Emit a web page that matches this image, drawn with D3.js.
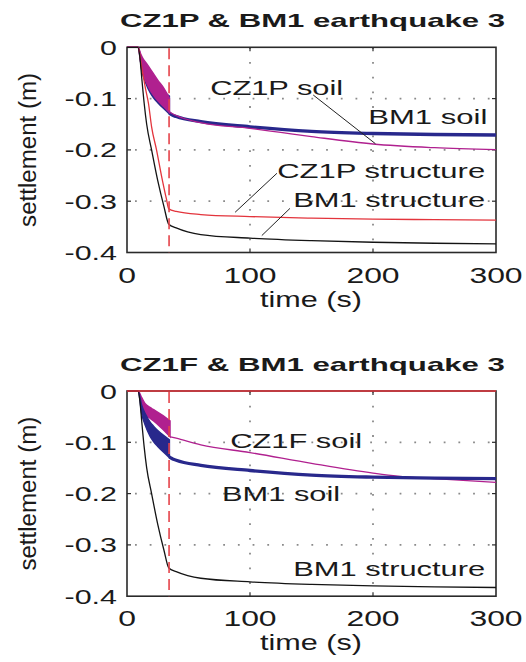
<!DOCTYPE html>
<html>
<head>
<meta charset="utf-8">
<script src="https://cdn.jsdelivr.net/npm/d3@7"></script>
<style>
  body { margin: 0; background: #fff; }
  text { font-family: "Liberation Sans", Arial, Helvetica, sans-serif; fill: #1a1a1a; }
</style>
</head>
<body>
<div id="chart"></div>
<script>
var width = 526;
var height = 662;

// axis ticks
var timeTicks = [0, 100, 200, 300];
var settleTicks = [0, -0.1, -0.2, -0.3, -0.4];
var settleTickLabels = ["0", "-0.1", "-0.2", "-0.3", "-0.4"];
var eventTime = 34.2; // end of shaking (dashed line)

// BM1 structure (same in both panels)
var bm1StructT = [0, 9, 10.5, 12, 14, 16, 20, 25, 30, 34, 40, 60, 100, 150, 200, 250, 300];
var bm1StructV = [0, 0, -0.02, -0.06, -0.11, -0.15, -0.2, -0.26, -0.31, -0.345, -0.352, -0.365, -0.372, -0.377, -0.380, -0.382, -0.383];

// BM1 soil (thick blue): band while shaking, then line
var bm1SoilBandT = [0, 9, 12, 15, 18.7, 21.4, 25, 30, 34.5];
var bm1SoilBandUp = [0, 0, -0.028, -0.045, -0.06, -0.068, -0.077, -0.087, -0.095];
var bm1SoilBandLo = [0, 0, -0.045, -0.068, -0.088, -0.098, -0.108, -0.12, -0.13];
var bm1SoilT = [34.5, 36, 40, 60, 100, 150, 200, 250, 300];
var bm1SoilV = [-0.128, -0.131, -0.135, -0.145, -0.155, -0.164, -0.168, -0.170, -0.171];

// CZ1P structure (red)
var cz1pStructT = [0, 9, 12, 15, 17.5, 20, 24, 28, 32, 34, 40, 60, 100, 150, 200, 250, 300];
var cz1pStructV = [0, 0, -0.04, -0.08, -0.11, -0.155, -0.2, -0.25, -0.295, -0.315, -0.32, -0.326, -0.330, -0.333, -0.335, -0.336, -0.337];

// CZ1P soil (magenta)
var cz1pSoilBandT = [0, 9, 11, 13, 16, 20, 25, 30, 34.5];
var cz1pSoilBandUp = [0, 0, -0.012, -0.022, -0.032, -0.046, -0.064, -0.08, -0.099];
var cz1pSoilBandLo = [0, 0, -0.028, -0.05, -0.07, -0.088, -0.104, -0.116, -0.127];
var cz1pSoilT = [34.5, 36, 40, 60, 100, 125, 150, 200, 250, 300];
var cz1pSoilV = [-0.126, -0.128, -0.133, -0.147, -0.158, -0.166, -0.174, -0.1885, -0.1957, -0.1996];

// CZ1F structure (red, no settlement)
var cz1fStructT = [0, 300];
var cz1fStructV = [0, 0];

// CZ1F soil (magenta)
var cz1fSoilBandT = [0, 9, 12, 14.6, 18.7, 21.4, 28, 35];
var cz1fSoilBandUp = [0, 0, -0.013, -0.024, -0.032, -0.036, -0.046, -0.058];
var cz1fSoilBandLo = [0, 0, -0.03, -0.045, -0.053, -0.058, -0.072, -0.089];
var cz1fSoilT = [35, 40, 60, 100, 150, 200, 220, 250, 300];
var cz1fSoilV = [-0.089, -0.092, -0.105, -0.120, -0.141, -0.160, -0.166, -0.171, -0.178];

var colors = {
  black: "#141414",
  red: "#e3343c",
  magenta: "#b0208f",
  blue: "#28288c",
  grid: "#8a8a8a",
  axis: "#2a2a2a"
};

var svg = d3.select("#chart")
  .append("svg")
  .attr("width", width)
  .attr("height", height);

function zipPts(ts, vs) {
  return ts.map(function(t, i) { return [t, vs[i]]; });
}
function zipBand(ts, up, lo) {
  return ts.map(function(t, i) { return [t, up[i], lo[i]]; });
}

var panels = [
  {
    title: "CZ1P & BM1 earthquake 3",
    top: 47.3, bottom: 252.5,
    soil: [
      { band: zipBand(bm1SoilBandT, bm1SoilBandUp, bm1SoilBandLo), line: zipPts(bm1SoilT, bm1SoilV), color: colors.blue, w: 3.3 },
      { band: zipBand(cz1pSoilBandT, cz1pSoilBandUp, cz1pSoilBandLo), line: zipPts(cz1pSoilT, cz1pSoilV), color: colors.magenta, w: 1.3 }
    ],
    lines: [
      { data: zipPts(cz1pStructT, cz1pStructV), color: colors.red, w: 1.3 },
      { data: zipPts(bm1StructT, bm1StructV), color: colors.black, w: 1.3 }
    ],
    labels: [
      { text: "CZ1P soil", t: 67.6, v: -0.093, len: 133 },
      { text: "BM1 soil", t: 196.2, v: -0.1495, len: 119 },
      { text: "CZ1P structure", t: 122.1, v: -0.2548, len: 208 },
      { text: "BM1 structure", t: 135.1, v: -0.3107, len: 192 }
    ],
    leaders: [
      [[151.4, -0.093], [202, -0.188]],
      [[121.9, -0.2456], [87.9, -0.3216]],
      [[132.5, -0.314], [109.6, -0.367]]
    ]
  },
  {
    title: "CZ1F & BM1 earthquake 3",
    top: 391, bottom: 596.2,
    soil: [
      { band: zipBand(cz1fSoilBandT, cz1fSoilBandUp, cz1fSoilBandLo), line: zipPts(cz1fSoilT, cz1fSoilV), color: colors.magenta, w: 1.3 },
      { band: zipBand(bm1SoilBandT, bm1SoilBandUp, bm1SoilBandLo), line: zipPts(bm1SoilT, bm1SoilV), color: colors.blue, w: 3.3 }
    ],
    lines: [
      { data: zipPts(bm1StructT, bm1StructV), color: colors.black, w: 1.3 },
      { data: zipPts(cz1fStructT, cz1fStructV), color: colors.red, w: 1.6 }
    ],
    labels: [
      { text: "CZ1F soil", t: 83.9, v: -0.1117, len: 132 },
      { text: "BM1 soil", t: 77.3, v: -0.2138, len: 118 },
      { text: "BM1 structure", t: 135.1, v: -0.36, len: 192 }
    ],
    leaders: []
  }
];

var left = 127, right = 496;
var stretch = 1.45;

panels.forEach(function(p) {
  var x = d3.scaleLinear().domain([0, 300]).range([left, right]);
  var y = d3.scaleLinear().domain([-0.4, 0]).range([p.bottom, p.top]);
  var g = svg.append("g");

  // dotted grid
  g.selectAll(".gx").data(timeTicks.slice(1, -1)).enter().append("line")
    .attr("x1", d => x(d)).attr("x2", d => x(d))
    .attr("y1", p.top).attr("y2", p.bottom)
    .attr("stroke", colors.grid).attr("stroke-width", 1.8)
    .attr("stroke-dasharray", "1.8,12.9");
  g.selectAll(".gy").data(settleTicks.slice(1, -1)).enter().append("line")
    .attr("x1", left).attr("x2", right)
    .attr("y1", d => y(d)).attr("y2", d => y(d))
    .attr("stroke", colors.grid).attr("stroke-width", 1.8)
    .attr("stroke-dasharray", "1.8,12.9")
    .attr("stroke-dashoffset", -8);

  // box
  g.append("rect")
    .attr("x", left).attr("y", p.top)
    .attr("width", right - left).attr("height", p.bottom - p.top)
    .attr("fill", "none").attr("stroke", colors.axis).attr("stroke-width", 1.6);

  // inward ticks
  timeTicks.slice(1, -1).forEach(function(t) {
    g.append("line").attr("x1", x(t)).attr("x2", x(t)).attr("y1", p.bottom).attr("y2", p.bottom - 4)
      .attr("stroke", colors.axis).attr("stroke-width", 1.2);
    g.append("line").attr("x1", x(t)).attr("x2", x(t)).attr("y1", p.top).attr("y2", p.top + 4)
      .attr("stroke", colors.axis).attr("stroke-width", 1.2);
  });
  settleTicks.slice(1, -1).forEach(function(v) {
    g.append("line").attr("x1", left).attr("x2", left + 4).attr("y1", y(v)).attr("y2", y(v))
      .attr("stroke", colors.axis).attr("stroke-width", 1.2);
    g.append("line").attr("x1", right).attr("x2", right - 4).attr("y1", y(v)).attr("y2", y(v))
      .attr("stroke", colors.axis).attr("stroke-width", 1.2);
  });

  var area = d3.area().curve(d3.curveMonotoneX)
    .x(d => x(d[0])).y0(d => y(d[2])).y1(d => y(d[1]));
  var line = d3.line().curve(d3.curveMonotoneX)
    .x(d => x(d[0])).y(d => y(d[1]));

  // soil series: line after shaking first, then oscillation band on top
  p.soil.forEach(function(s) {
    g.append("path").attr("d", line(s.line))
      .attr("fill", "none").attr("stroke", s.color)
      .attr("stroke-width", s.w).attr("stroke-linejoin", "round");
  });
  p.soil.forEach(function(s) {
    g.append("path").attr("d", area(s.band))
      .attr("fill", s.color).attr("stroke", s.color).attr("stroke-width", 1.4);
  });

  // structure lines
  p.lines.forEach(function(s) {
    g.append("path").attr("d", line(s.data))
      .attr("fill", "none").attr("stroke", s.color)
      .attr("stroke-width", s.w).attr("stroke-linejoin", "round");
  });

  // dashed line at end of shaking
  g.append("line")
    .attr("x1", x(eventTime)).attr("x2", x(eventTime))
    .attr("y1", p.top + 1).attr("y2", p.bottom)
    .attr("stroke", "#e5434a").attr("stroke-width", 1.6)
    .attr("stroke-dasharray", "11,6");

  // leader lines
  p.leaders.forEach(function(l) {
    g.append("line")
      .attr("x1", x(l[0][0])).attr("y1", y(l[0][1]))
      .attr("x2", x(l[1][0])).attr("y2", y(l[1][1]))
      .attr("stroke", "#222").attr("stroke-width", 1);
  });

  // in-plot labels
  p.labels.forEach(function(lb) {
    g.append("text")
      .attr("x", x(lb.t)).attr("y", y(lb.v))
      .attr("font-size", 21)
      .attr("textLength", lb.len).attr("lengthAdjust", "spacingAndGlyphs")
      .text(lb.text);
  });

  // tick labels
  settleTicks.forEach(function(v, i) {
    g.append("text")
      .attr("transform", "translate(117," + (y(v) + 7.5) + ") scale(" + stretch + ",1)")
      .attr("text-anchor", "end")
      .attr("font-size", 21)
      .text(settleTickLabels[i]);
  });
  timeTicks.forEach(function(t) {
    g.append("text")
      .attr("transform", "translate(" + x(t) + "," + (p.bottom + 30) + ") scale(" + stretch + ",1)")
      .attr("text-anchor", "middle")
      .attr("font-size", 22)
      .text(t);
  });

  // axis titles
  g.append("text")
    .attr("x", 260).attr("y", p.bottom + 54)
    .attr("font-size", 22)
    .attr("textLength", 102).attr("lengthAdjust", "spacingAndGlyphs")
    .text("time (s)");
  var midY = (p.top + p.bottom) / 2;
  g.append("text")
    .attr("transform", "translate(36," + (midY + 77) + ") rotate(-90)")
    .attr("font-size", 23)
    .attr("textLength", 154).attr("lengthAdjust", "spacingAndGlyphs")
    .text("settlement (m)");

  // panel title
  g.append("text")
    .attr("x", 120).attr("y", p.top - 20)
    .attr("font-size", 19).attr("font-weight", "bold")
    .attr("textLength", 385).attr("lengthAdjust", "spacingAndGlyphs")
    .text(p.title);
});
</script>
</body>
</html>
